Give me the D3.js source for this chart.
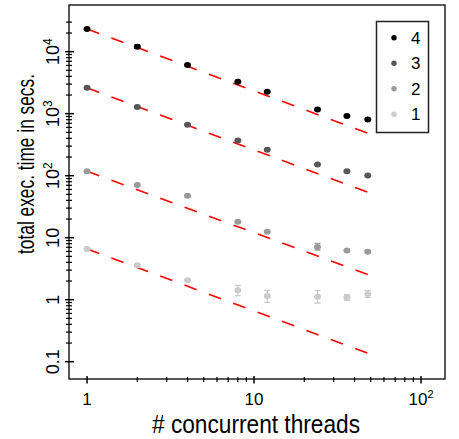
<!DOCTYPE html>
<html>
<head>
<meta charset="utf-8">
<script src="https://cdn.jsdelivr.net/npm/d3@7"></script>
<style>
  body { margin: 0; background: #fff; }
  svg { display: block; font-family: "Liberation Sans", Arial, sans-serif; }
</style>
</head>
<body>
<svg id="chart"></svg>
<script>
// x values: number of concurrent threads
const threads = [1, 2, 4, 8, 12, 24, 36, 48];

// series labels (legend order, top to bottom)
const seriesNames = ["4", "3", "2", "1"];
const seriesColors = ["#000000", "#575757", "#9a9a9a", "#cbcbcb"];

// total exec. time in secs., per series
const time4 = [23300, 12000, 6100, 3270, 2250, 1165, 918, 802];
const time3 = [2610, 1285, 665, 371, 262, 151, 118, 101];
const time2 = [117.5, 70.6, 47.4, 18, 12.5, 7.1, 6.2, 5.93];
const time1 = [6.6, 3.6, 2.05, 1.42, 1.15, 1.12, 1.09, 1.24];

// error bar bounds (null = no visible bar)
const low4 = [null, 11400, null, null, null, null, null, null];
const high4 = [null, 12740, null, null, null, null, null, null];
const low3 = [null, null, null, null, null, null, null, null];
const high3 = [null, null, null, null, null, null, null, null];
const low2 = [null, null, null, null, null, 6.3, null, 5.57];
const high2 = [null, null, null, null, null, 8.08, null, 6.3];
const low1 = [null, null, null, 1.16, 0.904, 0.884, 0.975, 1.077];
const high1 = [null, null, null, 1.70, 1.415, 1.415, 1.205, 1.415];

// ideal scaling reference lines (red dashed), from 1 to 48 threads
const idealThreads = [1, 48];
const idealStart = [23300, 2610, 117.5, 6.6];
const idealEnd = [485, 54, 2.55, 0.137];

// axis ticks
const xMajor = [1, 10, 100];
const xMinor = [2, 3, 4, 5, 6, 7, 8, 9, 20, 30, 40, 50, 60, 70, 80, 90];
const xTickLabels = [["1", ""], ["10", ""], ["10", "2"]];
const yMajor = [0.1, 1, 10, 100, 1000, 10000];
const yTickLabels = [["0.1", ""], ["1", ""], ["10", ""], ["10", "2"], ["10", "3"], ["10", "4"]];
const yMinorMult = [2, 3, 4, 5, 6, 7, 8, 9];

const times = [time4, time3, time2, time1];
const lows = [low4, low3, low2, low1];
const highs = [high4, high3, high2, high1];

const width = 459;
const height = 439;
const margin = { top: 5, right: 14, bottom: 60, left: 69 };

const svg = d3.select("#chart").attr("width", width).attr("height", height);

const x = d3.scaleLog()
  .domain([0.78, 139.2])
  .range([margin.left, width - margin.right]);

const y = d3.scaleLog()
  .domain([0.0526, 56600])
  .range([height - margin.bottom, margin.top]);

const x0 = margin.left;
const yBottom = height - margin.bottom;

// plot box
svg.append("rect")
  .attr("x", x0)
  .attr("y", margin.top)
  .attr("width", width - margin.right - x0)
  .attr("height", yBottom - margin.top)
  .attr("fill", "none")
  .attr("stroke", "#222")
  .attr("stroke-width", 1.5);

// y ticks
const yMinor = yMajor.slice(0, -1)
  .flatMap(function (d) { return yMinorMult.map(function (m) { return d * m; }); })
  .concat([20000, 30000]);

svg.append("g").selectAll("line")
  .data(yMinor)
  .enter()
  .append("line")
  .attr("x1", x0 - 3)
  .attr("x2", x0 + 3)
  .attr("y1", function (d) { return y(d); })
  .attr("y2", function (d) { return y(d); })
  .attr("stroke", "#000")
  .attr("stroke-width", 1.2);

svg.append("g").selectAll("line")
  .data(yMajor)
  .enter()
  .append("line")
  .attr("x1", x0 - 4)
  .attr("x2", x0 + 5)
  .attr("y1", function (d) { return y(d); })
  .attr("y2", function (d) { return y(d); })
  .attr("stroke", "#000")
  .attr("stroke-width", 1.5);

const yLabels = svg.append("g").selectAll("text")
  .data(yMajor)
  .enter()
  .append("text")
  .attr("transform", function (d) { return "translate(59," + y(d) + ") rotate(-90)"; })
  .attr("text-anchor", "middle")
  .style("font-size", "18px")
  .style("fill", "#000");

yLabels.append("tspan").text(function (d, i) { return yTickLabels[i][0]; });
yLabels.append("tspan")
  .attr("dy", -7)
  .style("font-size", "12px")
  .text(function (d, i) { return yTickLabels[i][1]; });

// x ticks
svg.append("g").selectAll("line")
  .data(xMinor)
  .enter()
  .append("line")
  .attr("x1", function (d) { return x(d); })
  .attr("x2", function (d) { return x(d); })
  .attr("y1", yBottom - 2)
  .attr("y2", yBottom + 3)
  .attr("stroke", "#000")
  .attr("stroke-width", 1.2);

svg.append("g").selectAll("line")
  .data(xMajor)
  .enter()
  .append("line")
  .attr("x1", function (d) { return x(d); })
  .attr("x2", function (d) { return x(d); })
  .attr("y1", yBottom - 3)
  .attr("y2", yBottom + 4.5)
  .attr("stroke", "#000")
  .attr("stroke-width", 1.5);

const xLabels = svg.append("g").selectAll("text")
  .data(xMajor)
  .enter()
  .append("text")
  .attr("x", function (d) { return x(d); })
  .attr("y", 405)
  .attr("text-anchor", "middle")
  .style("font-size", "17px")
  .style("fill", "#000");

xLabels.append("tspan").text(function (d, i) { return xTickLabels[i][0]; });
xLabels.append("tspan")
  .attr("dy", -7)
  .style("font-size", "11px")
  .text(function (d, i) { return xTickLabels[i][1]; });

// axis titles
svg.append("text")
  .attr("transform", "translate(34,164) rotate(-90)")
  .attr("text-anchor", "middle")
  .attr("textLength", 180)
  .attr("lengthAdjust", "spacingAndGlyphs")
  .style("font-size", "24px")
  .style("fill", "#000")
  .text("total exec. time in secs.");

svg.append("text")
  .attr("x", 256)
  .attr("y", 433)
  .attr("text-anchor", "middle")
  .attr("textLength", 208)
  .attr("lengthAdjust", "spacingAndGlyphs")
  .style("font-size", "25px")
  .style("fill", "#000")
  .text("# concurrent threads");

// ideal scaling lines
const line = d3.line()
  .x(function (d) { return x(d[0]); })
  .y(function (d) { return y(d[1]); });

svg.append("g").selectAll("path")
  .data(idealStart.map(function (s, i) {
    return [[idealThreads[0], s], [idealThreads[1], idealEnd[i]]];
  }))
  .enter()
  .append("path")
  .attr("d", line)
  .attr("fill", "none")
  .attr("stroke", "#ff0000")
  .attr("stroke-width", 1.6)
  .attr("stroke-dasharray", "13,13");

// error bars and points
times.forEach(function (series, si) {
  const color = seriesColors[si];
  const g = svg.append("g");

  const bars = threads
    .map(function (t, i) { return { t: t, lo: lows[si][i], hi: highs[si][i] }; })
    .filter(function (d) { return d.lo !== null; });

  g.selectAll(".eb")
    .data(bars)
    .enter()
    .append("path")
    .attr("d", function (d) {
      const cx = x(d.t);
      const y1 = y(d.lo);
      const y2 = y(d.hi);
      return "M" + cx + "," + y1 + "V" + y2 +
        "M" + (cx - 3) + "," + y1 + "H" + (cx + 3) +
        "M" + (cx - 3) + "," + y2 + "H" + (cx + 3);
    })
    .attr("fill", "none")
    .attr("stroke", color)
    .attr("stroke-width", 1.3);

  g.selectAll("ellipse")
    .data(series)
    .enter()
    .append("ellipse")
    .attr("cx", function (d, i) { return x(threads[i]); })
    .attr("cy", function (d) { return y(d); })
    .attr("rx", 3.5)
    .attr("ry", 3)
    .attr("fill", color);
});

// legend
const legend = svg.append("g");
legend.append("rect")
  .attr("x", 376.5)
  .attr("y", 21.5)
  .attr("width", 52)
  .attr("height", 111)
  .attr("fill", "#fff")
  .attr("stroke", "#222")
  .attr("stroke-width", 1.5);

const items = legend.selectAll(".item")
  .data(seriesNames)
  .enter()
  .append("g")
  .attr("transform", function (d, i) { return "translate(394," + (37.7 + i * 25.5) + ")"; });

items.append("circle")
  .attr("r", 2.7)
  .attr("fill", function (d, i) { return seriesColors[i]; });

items.append("text")
  .attr("x", 17)
  .attr("y", 6)
  .style("font-size", "17px")
  .style("fill", "#000")
  .text(function (d) { return d; });
</script>
</body>
</html>
